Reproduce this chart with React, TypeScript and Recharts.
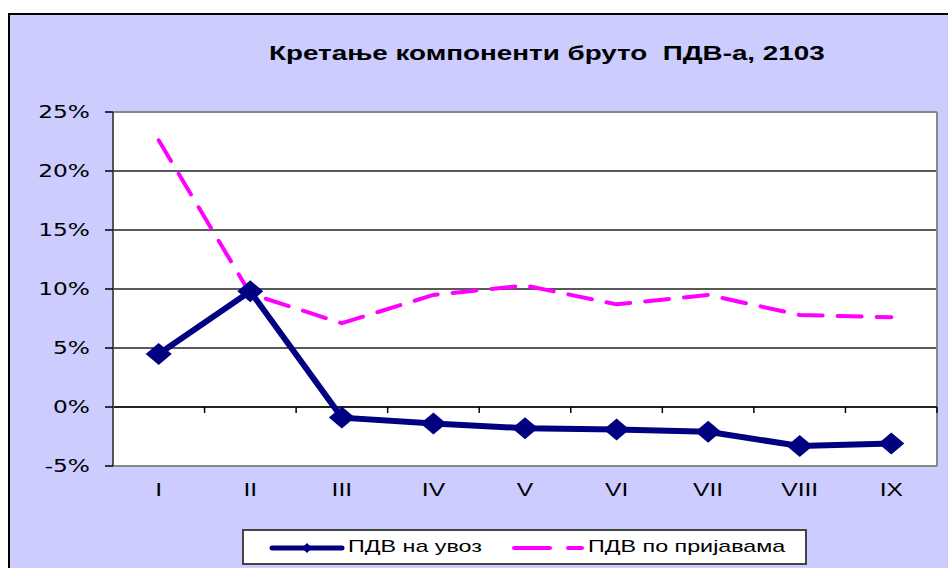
import { CartesianGrid, Line, LineChart, ReferenceLine, XAxis, YAxis } from 'recharts';

const MONTHS = ['I', 'II', 'III', 'IV', 'V', 'VI', 'VII', 'VIII', 'IX'];
const IMPORT_VAT = [4.5, 9.8, -0.9, -1.4, -1.8, -1.9, -2.1, -3.3, -3.1];
const RETURNS_VAT = [22.6, 9.6, 7.1, 9.5, 10.3, 8.7, 9.5, 7.8, 7.6];
const Y_TICKS = [-5, 0, 5, 10, 15, 20, 25];

const TITLE = 'Кретање компоненти бруто  ПДВ-а, 2103';
const IMPORT_NAME = 'ПДВ на увоз';
const RETURNS_NAME = 'ПДВ по пријавама';

const NAVY = '#000080';
const PINK = '#FF00FF';
const LAVENDER = '#CCCCFF';
const STRETCH = 1.37;

const chartData = MONTHS.map((m, i) => ({
  month: m,
  imports: IMPORT_VAT[i],
  returns: RETURNS_VAT[i],
}));

const Diamond = (props: any) => {
  const { cx, cy, index } = props;
  if (cx == null || cy == null) return <g key={index} />;
  return (
    <path
      key={index}
      d={`M${cx - 13},${cy} L${cx},${cy - 11} L${cx + 13},${cy} L${cx},${cy + 11} Z`}
      fill={NAVY}
    />
  );
};

const YTick = (props: any) => {
  const { x, y, payload } = props;
  return (
    <g transform={`translate(${x},${y}) scale(${STRETCH},1)`}>
      <text x={0} y={0} dy="0.36em" textAnchor="end" fontFamily="DejaVu Sans" fontSize={17} fill="#000">
        {payload.value}%
      </text>
    </g>
  );
};

const XTick = (props: any) => {
  const { x, y, payload } = props;
  return (
    <g transform={`translate(${x},${y}) scale(${STRETCH},1)`}>
      <text x={0} y={0} dy="0.71em" textAnchor="middle" fontFamily="Liberation Sans" fontSize={18} fill="#000">
        {payload.value}
      </text>
    </g>
  );
};

// small tick marks on the zero line, between the categories
const ZeroTicks = (props: any) => {
  const vb = props.viewBox || {};
  const { x, y, width } = vb;
  if (x == null) return null;
  const step = width / MONTHS.length;
  return (
    <g>
      {MONTHS.map((_, i) => (
        <line key={i} x1={x + step * (i + 1)} x2={x + step * (i + 1)} y1={y} y2={y + 6} stroke="#000" strokeWidth={1.5} />
      ))}
    </g>
  );
};

const rightEdge = ({ offset }: any) => [offset.left + offset.width];

const stretched = { display: 'inline-block', transform: `scaleX(${STRETCH})` };

export default function App() {
  return (
    <div style={{ position: 'relative', width: 948, height: 568, background: '#fff', overflow: 'hidden' }}>
      <style>{'body{margin:0}'}</style>
      <div
        style={{
          position: 'absolute',
          left: 8,
          top: 13,
          right: 0,
          bottom: 0,
          background: LAVENDER,
          borderLeft: '2px solid #000',
          borderTop: '2px solid #000',
        }}
      />
      <div
        style={{
          position: 'absolute',
          left: 147,
          top: 43,
          width: 800,
          textAlign: 'center',
          fontFamily: 'Liberation Sans',
          fontWeight: 'bold',
          fontSize: 20,
          lineHeight: '20px',
          whiteSpace: 'pre',
        }}
      >
        <span style={{ ...stretched, transform: 'scaleX(1.39)' }}>{TITLE}</span>
      </div>
      <div style={{ position: 'absolute', left: 0, top: 0 }}>
        <LineChart width={948} height={568} data={chartData} margin={{ top: 112, right: 11, bottom: 62, left: 8 }}>
          <CartesianGrid
            fill="#fff"
            fillOpacity={1}
            stroke="#222"
            strokeWidth={1.4}
            horizontalValues={[0, 5, 10, 15, 20]}
            verticalCoordinatesGenerator={rightEdge}
          />
          <CartesianGrid horizontal={false} stroke="#888" strokeWidth={2} verticalCoordinatesGenerator={rightEdge} />
          <ReferenceLine y={25} stroke="#888" strokeWidth={2} />
          <ReferenceLine y={-5} stroke="#888" strokeWidth={2} />
          <ReferenceLine y={0} stroke="#111" strokeWidth={1.5} label={ZeroTicks} />
          <XAxis
            dataKey="month"
            axisLine={false}
            tickLine={false}
            tickSize={0}
            tickMargin={17}
            height={40}
            padding={{ left: 45.7, right: 45.7 }}
            interval={0}
            tick={XTick}
          />
          <YAxis
            domain={[-5, 25]}
            ticks={Y_TICKS}
            width={105}
            axisLine={{ stroke: '#555', strokeWidth: 2 }}
            tickLine={{ stroke: '#000', strokeWidth: 1.5 }}
            tickSize={8}
            tickMargin={15}
            tick={YTick}
            allowDataOverflow
          />
          <Line
            dataKey="returns"
            name={RETURNS_NAME}
            stroke={PINK}
            strokeWidth={4}
            strokeDasharray="24 15"
            strokeLinecap="round"
            dot={false}
            activeDot={false}
            isAnimationActive={false}
            type="linear"
          />
          <Line
            dataKey="imports"
            name={IMPORT_NAME}
            stroke={NAVY}
            strokeWidth={6}
            dot={Diamond}
            activeDot={false}
            isAnimationActive={false}
            type="linear"
          />
        </LineChart>
      </div>
      <div
        style={{
          position: 'absolute',
          left: 242,
          top: 529,
          width: 561,
          height: 32,
          background: '#fff',
          border: '2px solid #444',
          fontFamily: 'Liberation Sans',
          fontSize: 17,
        }}
      >
        <svg width={561} height={32} style={{ position: 'absolute', left: 0, top: 0 }}>
          <line x1={28} x2={98} y1={17} y2={17} stroke={NAVY} strokeWidth={5} strokeLinecap="round" />
          <path d="M58,17 L63,12 L68,17 L63,22 Z" fill={NAVY} />
          <line x1={270} x2={338} y1={17} y2={17} stroke={PINK} strokeWidth={4} strokeDasharray="36 18" strokeLinecap="round" />
        </svg>
        <div style={{ position: 'absolute', left: 104, top: 6, lineHeight: '20px' }}>
          <span style={{ ...stretched, transformOrigin: 'left' }}>{IMPORT_NAME}</span>
        </div>
        <div style={{ position: 'absolute', left: 344, top: 6, lineHeight: '20px' }}>
          <span style={{ ...stretched, transformOrigin: 'left' }}>{RETURNS_NAME}</span>
        </div>
      </div>
    </div>
  );
}
